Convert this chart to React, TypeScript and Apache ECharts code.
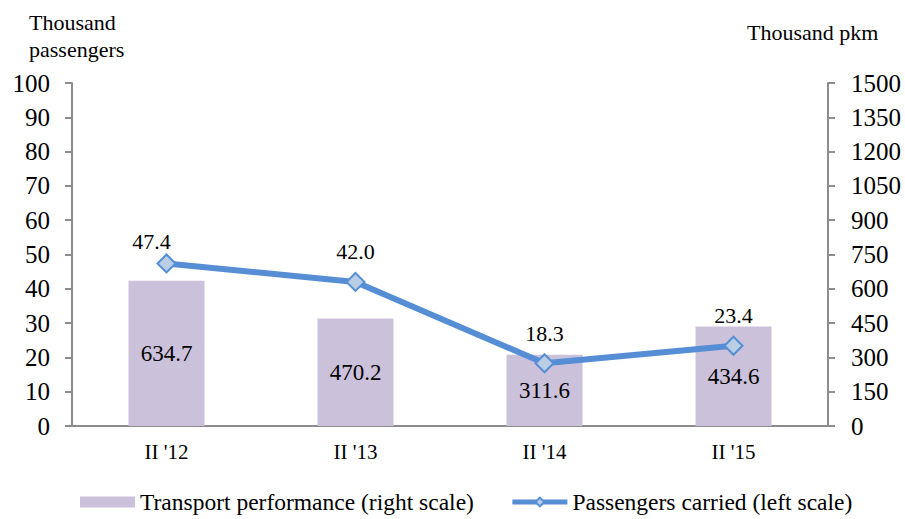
import React, { useEffect, useRef } from "react";
import * as echarts from "echarts";

const categories = ["II '12", "II '13", "II '14", "II '15"];
const transportPerformance = [634.7, 470.2, 311.6, 434.6];
const passengersCarried = [47.4, 42.0, 18.3, 23.4];
const leftName = "Thousand\npassengers";
const rightName = "Thousand pkm";
const barName = "Transport performance (right scale)";
const lineName = "Passengers carried (left scale)";

const FONT = "'Liberation Serif', 'Times New Roman', serif";

export default function App() {
  const ref = useRef<HTMLDivElement>(null);
  useEffect(() => {
    document.body.style.margin = "0";
    if (!ref.current) return;
    const chart = echarts.init(ref.current, undefined, { renderer: "svg" });
    const lineData = passengersCarried.map((v, i) =>
      i === 0 ? { value: v, label: { offset: [-15, 8] } } : v
    );
    chart.setOption({
      animation: false,
      textStyle: { fontFamily: FONT, color: "#000" },
      grid: { left: 72, right: 77, top: 83, bottom: 93, containLabel: false },
      legend: {
        bottom: 0,
        left: 75,
        itemGap: 36,
        itemWidth: 55,
        itemHeight: 11,
        textStyle: { fontFamily: FONT, fontSize: 23.5, color: "#000" },
        data: [
          { name: barName, icon: "rect" },
          { name: lineName, lineStyle: { width: 5, color: "#558ed5" } },
        ],
      },
      graphic: [
        {
          type: "text",
          left: 29,
          top: 9,
          style: { text: leftName, fontFamily: FONT, fontSize: 22, fill: "#000", lineHeight: 27 },
        },
        {
          type: "text",
          left: 747,
          top: 21,
          style: { text: rightName, fontFamily: FONT, fontSize: 22, fill: "#000" },
        },
      ],
      xAxis: {
        type: "category",
        data: categories,
        boundaryGap: true,
        axisLine: { lineStyle: { color: "#8c8c8c", width: 2 } },
        axisTick: { show: false },
        axisLabel: { fontFamily: FONT, fontSize: 21, color: "#000", margin: 15 },
      },
      yAxis: [
        {
          type: "value",
          min: 0,
          max: 100,
          interval: 10,
          position: "left",
          axisLine: { show: true, lineStyle: { color: "#8c8c8c", width: 2 } },
          axisTick: { show: true, inside: false, length: 7, lineStyle: { color: "#8c8c8c", width: 2 } },
          splitLine: { show: false },
          axisLabel: { fontFamily: FONT, fontSize: 25, color: "#000", margin: 22, formatter: (v: number) => String(v) },
        },
        {
          type: "value",
          min: 0,
          max: 1500,
          interval: 150,
          position: "right",
          axisLine: { show: true, lineStyle: { color: "#8c8c8c", width: 2 } },
          axisTick: { show: true, inside: false, length: 7, lineStyle: { color: "#8c8c8c", width: 2 } },
          splitLine: { show: false },
          axisLabel: { fontFamily: FONT, fontSize: 25, color: "#000", margin: 23, formatter: (v: number) => String(v) },
        },
      ],
      series: [
        {
          name: barName,
          type: "bar",
          yAxisIndex: 1,
          data: transportPerformance,
          barWidth: 76,
          itemStyle: { color: "#ccc1da" },
          label: {
            show: true,
            position: "inside",
            fontFamily: FONT,
            fontSize: 23,
            color: "#000",
            formatter: (p: any) => p.value.toFixed(1),
          },
        },
        {
          name: lineName,
          type: "line",
          yAxisIndex: 0,
          data: lineData,
          symbol: "diamond",
          symbolSize: 18,
          lineStyle: { color: "#558ed5", width: 6 },
          itemStyle: { color: "#b9cde5", borderColor: "#558ed5", borderWidth: 2 },
          label: {
            show: true,
            position: "top",
            distance: 9,
            fontFamily: FONT,
            fontSize: 22,
            color: "#000",
            formatter: (p: any) => Number(p.value).toFixed(1),
          },
          z: 3,
        },
      ],
    });
    return () => chart.dispose();
  }, []);
  return <div ref={ref} style={{ width: 905, height: 519 }} />;
}
